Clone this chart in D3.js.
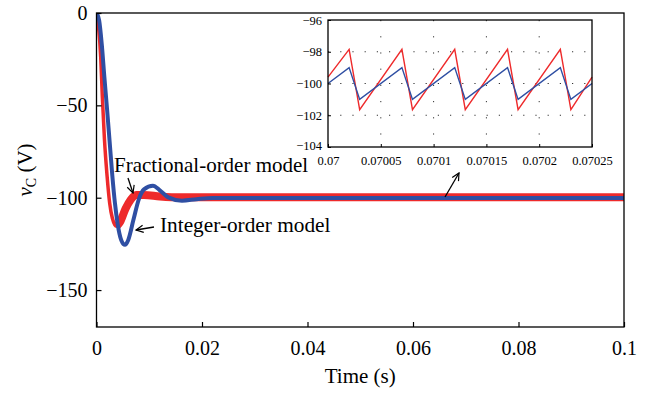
<!DOCTYPE html>
<html>
<head>
<meta charset="utf-8">
<script src="https://cdn.jsdelivr.net/npm/d3@7"></script>
<style>
  body { margin: 0; background: #fff; }
</style>
</head>
<body>
<svg id="chart" width="648" height="394"></svg>
<script>
// main transient (key points)
const timeFrac = [0, 0.0004, 0.0008, 0.0011, 0.0015, 0.002, 0.0025, 0.003, 0.0038, 0.0045, 0.0055, 0.0065, 0.0075, 0.009, 0.012, 0.016, 0.1];
const voltFrac = [0, -8, -24, -45, -68, -88, -103, -111, -115.5, -113, -106, -101, -98.5, -98.5, -99.3, -99.8, -99.8];
const timeInt = [0, 0.0005, 0.001, 0.0015, 0.002, 0.0025, 0.003, 0.0035, 0.004, 0.0047, 0.0054, 0.006, 0.007, 0.008, 0.009, 0.0107, 0.012, 0.0136, 0.0162, 0.019, 0.022, 0.1];
const voltInt = [0, -4, -17, -35, -52, -70, -88, -103, -114, -123, -125.5, -123, -112, -101, -95.5, -93.5, -96, -99.8, -101.6, -100.8, -100.2, -100.2];

// zoomed ripple (inset)
const insetTime = [0.07, 0.07002, 0.07003, 0.07007, 0.07008, 0.07012, 0.07013, 0.07017, 0.07018, 0.07022, 0.07023, 0.07025];
const insetFrac = [-99.6, -97.85, -101.65, -97.85, -101.65, -97.85, -101.65, -97.85, -101.65, -97.85, -101.65, -99.6];
const insetInt = [-100, -99, -101, -99, -101, -99, -101, -99, -101, -99, -101, -100];

const xTicks = [0, 0.02, 0.04, 0.06, 0.08, 0.1];
const xTickLabels = ["0", "0.02", "0.04", "0.06", "0.08", "0.1"];
const yTicks = [0, -50, -100, -150];
const yTickLabels = ["0", "\u221250", "\u2212100", "\u2212150"];
const insetXTicks = [0.07, 0.07005, 0.0701, 0.07015, 0.0702, 0.07025];
const insetXLabels = ["0.07", "0.07005", "0.0701", "0.07015", "0.0702", "0.07025"];
const insetYTicks = [-96, -98, -100, -102, -104];
const insetYLabels = ["\u221296", "\u221298", "\u2212100", "\u2212102", "\u2212104"];

const RED = "#ee2a2b", BLUE = "#2f4fa3";
const SERIF = '"Liberation Serif"';

const svg = d3.select("#chart").style("font-family", SERIF);

const margin = { top: 13, right: 24, bottom: 67, left: 96.5 };
const width = 648 - margin.left - margin.right;
const height = 394 - margin.top - margin.bottom;

const x = d3.scaleLinear().domain([0, 0.1]).range([margin.left, margin.left + width]);
const y = d3.scaleLinear().domain([-170, 0]).range([margin.top + height, margin.top]);

const fracPts = timeFrac.map((t, i) => [t, voltFrac[i]]);
const intPts = timeInt.map((t, i) => [t, voltInt[i]]);

const line = d3.line().x(d => x(d[0])).y(d => y(d[1])).curve(d3.curveMonotoneX);

svg.append("defs").append("clipPath").attr("id", "clip")
  .append("rect").attr("x", x(0)).attr("y", y(0)).attr("width", width).attr("height", height);

const plot = svg.append("g").attr("clip-path", "url(#clip)");

// fractional-order: thinner descent + wide ripple band afterwards
plot.append("path").datum(fracPts).attr("d", line)
  .attr("fill", "none").attr("stroke", RED).attr("stroke-width", 3.5);
plot.append("path").datum(fracPts.filter(d => d[0] >= 0.0038)).attr("d", line)
  .attr("fill", "none").attr("stroke", RED).attr("stroke-width", 8);

// integer-order
plot.append("path").datum(intPts).attr("d", line)
  .attr("fill", "none").attr("stroke", BLUE).attr("stroke-width", 4);

// axes
const xAxis = d3.axisBottom(x).tickValues(xTicks).tickFormat((d, i) => xTickLabels[i])
  .tickSizeInner(-5).tickSizeOuter(0).tickPadding(14);
const yAxis = d3.axisLeft(y).tickValues(yTicks).tickFormat((d, i) => yTickLabels[i])
  .tickSizeInner(-5).tickSizeOuter(0).tickPadding(9);

const gx = svg.append("g").attr("transform", "translate(0," + (margin.top + height) + ")").call(xAxis);
const gy = svg.append("g").attr("transform", "translate(" + margin.left + ",0)").call(yAxis);
[gx, gy].forEach(g => {
  g.attr("font-family", null).attr("font-size", null);
  g.select(".domain").remove();
  g.selectAll("line").attr("stroke", "#000").attr("stroke-width", 1.2);
  g.selectAll("text").style("font-size", "20px").attr("fill", "#000");
});

svg.append("rect")
  .attr("x", x(0)).attr("y", y(0)).attr("width", width).attr("height", height)
  .attr("fill", "none").attr("stroke", "#000").attr("stroke-width", 1.3);

svg.append("text")
  .attr("x", (x(0) + x(0.1)) / 2).attr("y", 383)
  .attr("text-anchor", "middle").style("font-size", "21px").text("Time (s)");

const ylab = svg.append("text")
  .attr("transform", "translate(32," + (y(0) + y(-170)) / 2 + ") rotate(-90)")
  .attr("text-anchor", "middle").style("font-size", "21px");
ylab.append("tspan").style("font-style", "italic").text("v");
ylab.append("tspan").style("font-size", "14px").attr("dy", 4).text("C");
ylab.append("tspan").attr("dy", -4).text(" (V)");

// annotations
svg.append("defs").append("marker").attr("id", "arrow")
  .attr("viewBox", "0 0 10 10").attr("refX", 9).attr("refY", 5)
  .attr("markerWidth", 7).attr("markerHeight", 7).attr("orient", "auto")
  .append("path").attr("d", "M1,1 L9,5 L1,9").attr("fill", "none").attr("stroke", "#000").attr("stroke-width", 1.3);

function arrow(x1, y1, x2, y2) {
  svg.append("line").attr("x1", x1).attr("y1", y1).attr("x2", x2).attr("y2", y2)
    .attr("stroke", "#000").attr("stroke-width", 1.3).attr("marker-end", "url(#arrow)");
}

svg.append("text").attr("x", 114).attr("y", 171.5).style("font-size", "21px").text("Fractional-order model");
arrow(128, 178, 133, 193);
svg.append("text").attr("x", 160).attr("y", 232).style("font-size", "21.3px").text("Integer-order model");
arrow(154, 227, 136, 230);
arrow(445, 197, 459, 173);

// inset
const ix = d3.scaleLinear().domain([0.07, 0.07025]).range([328, 592]);
const iy = d3.scaleLinear().domain([-104, -96]).range([147, 20]);
const inset = svg.append("g");

inset.append("rect").attr("x", 328).attr("y", 20).attr("width", 264).attr("height", 127).attr("fill", "#fff");

inset.selectAll(".vgrid").data(insetXTicks.slice(1, -1)).join("line")
  .attr("x1", d => ix(d)).attr("x2", d => ix(d)).attr("y1", iy(-96)).attr("y2", iy(-104))
  .attr("stroke", "#333").attr("stroke-width", 1).attr("stroke-dasharray", "1.2,15");
inset.selectAll(".hgrid").data(insetYTicks.slice(1, -1)).join("line")
  .attr("x1", ix(0.07)).attr("x2", ix(0.07025)).attr("y1", d => iy(d)).attr("y2", d => iy(d))
  .attr("stroke", "#333").attr("stroke-width", 1).attr("stroke-dasharray", "1.2,11");

const iline = d3.line().x(d => ix(d[0])).y(d => iy(d[1]));
inset.append("path").datum(insetTime.map((t, i) => [t, insetFrac[i]])).attr("d", iline)
  .attr("fill", "none").attr("stroke", RED).attr("stroke-width", 1.4);
inset.append("path").datum(insetTime.map((t, i) => [t, insetInt[i]])).attr("d", iline)
  .attr("fill", "none").attr("stroke", BLUE).attr("stroke-width", 1.4);

const ixAxis = d3.axisBottom(ix).tickValues(insetXTicks).tickFormat((d, i) => insetXLabels[i])
  .tickSizeInner(-3).tickSizeOuter(0).tickPadding(9);
const iyAxis = d3.axisLeft(iy).tickValues(insetYTicks).tickFormat((d, i) => insetYLabels[i])
  .tickSizeInner(-3).tickSizeOuter(0).tickPadding(6);
const gix = inset.append("g").attr("transform", "translate(0,147)").call(ixAxis);
const giy = inset.append("g").attr("transform", "translate(328,0)").call(iyAxis);
[gix, giy].forEach(g => {
  g.attr("font-family", null).attr("font-size", null);
  g.select(".domain").remove();
  g.selectAll("line").attr("stroke", "#000");
  g.selectAll("text").style("font-size", "12.5px").attr("fill", "#000");
});
// the bottom inset y label sits just above the annotation text
giy.selectAll(".tick").filter(d => d === -104).select("text").attr("dy", "0.22em");

inset.append("rect").attr("x", 328).attr("y", 20).attr("width", 264).attr("height", 127)
  .attr("fill", "none").attr("stroke", "#000").attr("stroke-width", 1.3);

svg.selectAll("text").style("font-family", SERIF);
</script>
</body>
</html>
